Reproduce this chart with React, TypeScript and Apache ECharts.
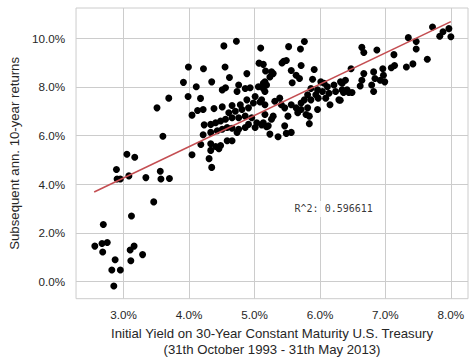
import React, { useEffect, useRef } from 'react';
import * as echarts from 'echarts';

// Initial 30-year yield (%) and subsequent annualised 10-year return (%)
const yieldX = [
  2.56, 2.67, 2.75, 2.68, 2.69, 2.87, 2.82, 2.95, 2.85, 3.10, 3.16, 3.11, 3.29, 3.12, 3.46,
  2.89, 2.90, 2.95, 3.08, 3.05, 3.17, 3.34, 3.56, 3.57, 3.70, 3.60, 3.51, 3.69,
  4.532, 4.723, 5.094, 5.069, 5.134, 5.169, 3.990, 4.220, 3.914, 4.346, 4.617, 4.883, 3.985, 4.175,
  4.557, 4.507, 4.758, 4.733, 4.858, 4.933, 5.059, 5.134, 4.045, 4.130, 4.215, 4.381, 4.507, 4.657,
  4.783, 4.607, 4.707, 4.808, 4.908, 4.983, 5.084, 5.159, 4.231, 4.331, 4.406, 4.482, 4.557, 4.657,
  4.758, 4.858, 4.958, 5.034, 5.109, 5.184, 4.215, 4.331, 4.431, 4.507, 4.582, 4.657, 4.758, 4.858,
  4.180, 4.331, 4.406, 4.482, 4.582, 4.657, 4.331, 4.456, 4.045, 4.306, 4.346, 4.733, 4.908, 5.009,
  5.009, 4.883, 5.159, 4.11, 4.55,
  5.762, 5.702, 5.521, 5.446, 5.486, 5.420, 5.712, 5.260, 5.235, 5.285, 5.561, 5.636, 5.687, 5.576,
  5.912, 5.887, 6.013, 6.063, 6.113, 6.214, 6.314, 6.389, 5.963, 6.038, 6.138, 6.239, 6.339, 6.414,
  5.862, 5.937, 5.812, 5.762, 5.862, 5.973, 6.088, 6.153, 6.289, 5.712, 5.561, 5.636, 5.712, 5.812,
  5.787, 5.837, 5.963, 5.385, 5.310, 5.410, 5.461, 5.511, 5.285, 5.260, 5.134, 5.210, 5.159, 5.109,
  5.134, 5.159, 5.184, 5.461, 5.561, 5.486, 5.235, 5.360, 5.837, 5.661,
  7.72, 7.83, 7.88, 7.97, 8.00, 7.35, 7.47, 7.47, 7.64, 7.42, 7.32, 7.13, 7.14, 7.09, 6.87, 6.64,
  6.67, 6.475, 6.96, 6.97, 6.82, 6.84, 6.92, 6.99, 6.67, 6.64, 6.615, 6.79, 6.82, 6.49, 6.44, 6.36,
  6.31, 6.34,
];
const returnY = [
  1.45, 1.56, 1.60, 1.21, 2.34, 0.89, 0.47, 0.47, -0.19, 1.29, 1.45, 0.85, 1.10, 2.69, 3.27,
  4.60, 4.21, 4.21, 4.34, 5.23, 5.11, 4.27, 4.53, 4.21, 4.23, 5.97, 7.14, 7.54,
  9.69, 9.88, 9.60, 8.98, 8.93, 8.66, 8.82, 8.75, 8.19, 8.21, 8.39, 8.55, 7.61, 7.53,
  7.97, 7.88, 8.08, 7.81, 7.94, 7.97, 8.01, 8.15, 6.84, 7.03, 7.07, 7.11, 7.18, 7.24,
  7.27, 6.94, 7.00, 7.07, 7.14, 7.34, 7.38, 7.27, 6.44, 6.46, 6.53, 6.60, 6.67, 6.73,
  6.73, 6.80, 6.73, 6.53, 6.44, 6.36, 6.03, 6.13, 6.20, 6.26, 6.33, 6.30, 6.26, 6.33,
  5.63, 5.66, 5.55, 5.59, 5.79, 5.79, 5.39, 5.46, 5.21, 5.05, 4.69, 6.13, 6.46, 6.33,
  7.61, 7.47, 7.81, 8.01, 8.82,
  9.87, 9.56, 9.66, 9.06, 9.09, 8.99, 8.88, 8.62, 8.41, 8.55, 8.68, 8.48, 8.35, 8.17,
  8.72, 8.32, 8.21, 8.15, 8.01, 8.08, 8.21, 8.28, 7.88, 7.81, 7.74, 7.81, 7.88, 7.88,
  7.94, 7.68, 7.68, 7.47, 7.47, 7.54, 7.54, 7.27, 7.47, 7.34, 7.27, 7.14, 7.07, 7.14,
  6.87, 6.80, 7.07, 7.54, 7.41, 7.27, 7.14, 6.80, 6.80, 6.67, 6.53, 6.40, 6.87, 7.47,
  7.94, 8.21, 8.08, 6.40, 6.13, 6.09, 6.06, 5.95, 6.49, 6.94,
  10.47, 10.09, 10.27, 10.40, 10.07, 10.03, 9.87, 9.56, 9.14, 8.95, 8.82, 9.33, 8.88, 8.79, 9.52, 9.63,
  9.42, 8.75, 8.75, 8.48, 8.62, 8.35, 8.28, 8.21, 8.55, 8.28, 8.04, 8.08, 7.81, 7.77, 7.77, 7.77,
  7.45, 8.15,
];

// Regression line end points
const fitX = [2.55, 8.0];
const fitY = [3.68, 10.69];

const xTicks = [3, 4, 5, 6, 7, 8];
const yTicks = [0, 2, 4, 6, 8, 10];

const r2Text = 'R^2: 0.596611';
const r2Pos = [6.21, 2.98];

const xTitle = 'Initial Yield on 30-Year Constant Maturity U.S. Treasury\n(31th October 1993 - 31th May 2013)';
const yTitle = 'Subsequent ann. 10-year returns';

export default function App() {
  const ref = useRef<HTMLDivElement>(null);
  useEffect(() => {
    document.body.style.margin = '0';
    const chart = echarts.init(ref.current as HTMLDivElement, null, { renderer: 'svg' });
    const font = '"Liberation Sans", Arial, sans-serif';
    const textColor = '#262626';
    const points = yieldX.map((x, i) => [x, returnY[i]]);
    const fit = fitX.map((x, i) => [x, fitY[i]]);
    chart.setOption({
      animation: false,
      backgroundColor: '#ffffff',
      grid: {
        left: 70, top: 8, right: 8, bottom: 57,
        show: true, borderColor: '#cccccc', borderWidth: 1, backgroundColor: 'transparent',
      },
      xAxis: {
        type: 'value', min: 2.273, max: 8.262,
        axisLine: { show: false },
        axisTick: { show: false, customValues: xTicks },
        axisLabel: {
          customValues: xTicks,
          formatter: (v: number) => v.toFixed(1) + '%',
          color: textColor, fontSize: 11.7, fontFamily: font, margin: 10,
        },
        splitLine: { show: true, lineStyle: { color: '#cccccc', width: 1 } },
        name: xTitle, nameLocation: 'middle', nameGap: 23,
        nameTextStyle: { color: textColor, fontSize: 13.2, fontFamily: font, lineHeight: 15.7 },
      },
      yAxis: {
        type: 'value', min: -0.714, max: 11.25,
        axisLine: { show: false },
        axisTick: { show: false, customValues: yTicks },
        axisLabel: {
          customValues: yTicks,
          formatter: (v: number) => v.toFixed(1) + '%',
          color: textColor, fontSize: 11.7, fontFamily: font, margin: 11,
        },
        splitLine: { show: true, lineStyle: { color: '#cccccc', width: 1 } },
        name: yTitle, nameLocation: 'middle', nameGap: 45,
        nameTextStyle: { color: textColor, fontSize: 13.2, fontFamily: font },
      },
      series: [
        {
          type: 'scatter', data: points, symbolSize: 7,
          itemStyle: { color: '#000000', opacity: 1 }, silent: true, z: 2,
        },
        {
          type: 'line', data: fit, showSymbol: false, symbol: 'none',
          lineStyle: { color: '#c44e52', width: 1.6 }, silent: true, z: 3,
        },
        {
          type: 'scatter', data: [r2Pos], symbolSize: 1, silent: true, z: 4,
          itemStyle: { color: 'rgba(0,0,0,0)' },
          label: {
            show: true, position: 'inside', formatter: r2Text,
            fontFamily: '"DejaVu Sans Mono", monospace', fontSize: 10, color: '#000000',
            backgroundColor: '#ffffff', padding: [3, 3],
          },
        },
      ],
    });
    return () => chart.dispose();
  }, []);
  return <div ref={ref} style={{ width: 476, height: 362 }} />;
}
